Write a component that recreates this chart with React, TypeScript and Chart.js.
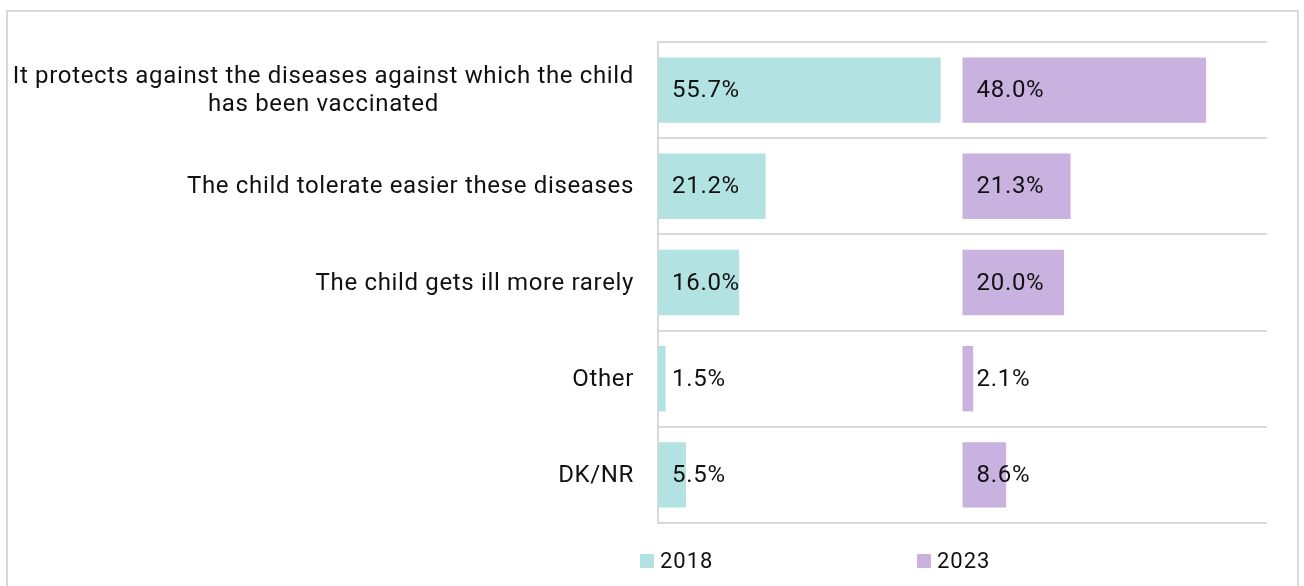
import React, { useEffect, useRef } from "react";
import { Chart, registerables } from "chart.js";

Chart.register(...registerables);

const categories: (string | string[])[] = [
  ["It protects against the diseases against which the child", "has been vaccinated"],
  "The child tolerate easier these diseases",
  "The child gets ill more rarely",
  "Other",
  "DK/NR",
];
const seriesNames = ["2018", "2023"];
const values2018 = [55.7, 21.2, 16.0, 1.5, 5.5];
const values2023 = [48.0, 21.3, 20.0, 2.1, 8.6];
const panelWidth = 60; // each year panel spans 0–60 %
const colors = ["#B2E2E2", "#CAB2E0"];
const FONT = "Roboto, 'Liberation Sans', sans-serif";
const TEXT = "#111111";

function setFont(ctx: any, size: number, spacing: number) {
  ctx.font = `${size}px ${FONT}`;
  ctx.letterSpacing = `${spacing}px`;
}

const categoryLabels = {
  id: "categoryLabels",
  afterDraw(chart: any) {
    const ctx = chart.ctx;
    const scale = chart.scales.y;
    const right = chart.chartArea.left - 24;
    const lineH = 28;
    ctx.save();
    setFont(ctx, 24, 0.65);
    ctx.fillStyle = TEXT;
    ctx.textBaseline = "middle";
    ctx.textAlign = "center";
    (chart.data.labels as any[]).forEach((lab: any, i: number) => {
      const lines: string[] = Array.isArray(lab) ? lab : [lab];
      const maxW = Math.max(...lines.map((l) => ctx.measureText(l).width));
      const cx = right - maxW / 2;
      const cy = scale.getPixelForTick(i);
      lines.forEach((l, j) => {
        const y = cy + (j - (lines.length - 1) / 2) * lineH;
        ctx.fillText(l, cx, y + 1);
      });
    });
    ctx.restore();
  },
};

const valueLabels = {
  id: "valueLabels",
  afterDatasetsDraw(chart: any) {
    const ctx = chart.ctx;
    ctx.save();
    setFont(ctx, 24, 0.7);
    ctx.fillStyle = TEXT;
    ctx.textBaseline = "middle";
    ctx.textAlign = "left";
    chart.data.datasets.forEach((ds: any, di: number) => {
      const meta = chart.getDatasetMeta(di);
      meta.data.forEach((bar: any, i: number) => {
        const raw = ds.data[i];
        const v = raw[1] - raw[0];
        ctx.fillText(v.toFixed(1) + "%", bar.base + 14, bar.y + 1);
      });
    });
    ctx.restore();
  },
};

const bottomLegend = {
  id: "bottomLegend",
  afterDraw(chart: any) {
    const ctx = chart.ctx;
    const left = chart.chartArea.left;
    const y = chart.chartArea.bottom + 38;
    const offsets = [-18, 259];
    ctx.save();
    setFont(ctx, 22, 1);
    ctx.textBaseline = "middle";
    ctx.textAlign = "left";
    chart.data.datasets.forEach((ds: any, i: number) => {
      const x = left + offsets[i];
      ctx.fillStyle = ds.backgroundColor;
      ctx.fillRect(x, y - 7, 14, 14);
      ctx.fillStyle = TEXT;
      ctx.fillText(ds.label, x + 20, y + 1);
    });
    ctx.restore();
  },
};

export default function App() {
  const ref = useRef<HTMLCanvasElement>(null);
  useEffect(() => {
    if (!ref.current) return;
    const chart = new Chart(ref.current, {
      type: "bar",
      data: {
        labels: categories,
        datasets: [
          {
            label: seriesNames[0],
            data: values2018.map((v) => [0, v]),
            backgroundColor: colors[0],
          },
          {
            label: seriesNames[1],
            data: values2023.map((v) => [panelWidth, panelWidth + v]),
            backgroundColor: colors[1],
          },
        ],
      },
      options: {
        indexAxis: "y",
        animation: false,
        responsive: false,
        maintainAspectRatio: false,
        grouped: false,
        categoryPercentage: 1,
        barPercentage: 0.68,
        layout: { padding: { top: 30, right: 30, bottom: 85, left: 0 } },
        plugins: {
          legend: { display: false },
          tooltip: { enabled: false },
        },
        scales: {
          x: { display: false, min: 0, max: panelWidth * 2 },
          y: {
            grid: {
              offset: true,
              color: "#D9D9D9",
              lineWidth: 2,
              drawTicks: false,
            },
            border: { color: "#D9D9D9", width: 2 },
            ticks: { display: false },
            afterFit(scale: any) {
              scale.width = 650;
            },
          },
        },
      } as any,
      plugins: [categoryLabels, valueLabels, bottomLegend],
    });
    return () => chart.destroy();
  }, []);
  return (
    <div
      style={{
        position: "absolute",
        left: 6,
        top: 10,
        width: 1293,
        height: 600,
        border: "2px solid #D9D9D9",
        boxSizing: "border-box",
        background: "#fff",
      }}
    >
      <canvas ref={ref} width={1289} height={596} style={{ display: "block" }} />
    </div>
  );
}
